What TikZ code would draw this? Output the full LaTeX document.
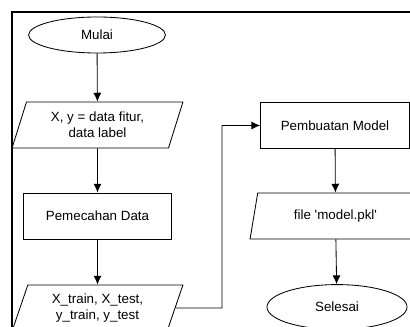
\documentclass[tikz,border=0pt]{standalone}
\usepackage{fontspec}
\setmainfont{Liberation Sans}
\usetikzlibrary{shapes.geometric,arrows.meta}

\begin{document}
\begin{tikzpicture}[x=0.025cm,y=-0.025cm,
  font=\fontsize{9.5}{11.5}\selectfont,
  base/.style={draw,line width=0.6pt,align=center,inner sep=1pt},
  terminal/.style={base,ellipse,minimum width=3.42cm,minimum height=0.9cm},
  process/.style={base,rectangle,minimum width=3.72cm,minimum height=1.15cm},
  io/.style={base,trapezium,trapezium left angle=63.4,trapezium right angle=116.6,
    trapezium stretches body,minimum width=4.27cm,minimum height=1.15cm},
  arr/.style={line width=0.6pt,-{Latex[length=2.2mm,width=2mm]}}]
\clip (0,0) rectangle (410,327);
\fill[white] (0,0) rectangle (410,327);
% frame
\draw[line width=1.8pt] (12,340)--(12,12)--(420,12);

\node[terminal] (mulai) at (97,35) {Mulai};
\node[io] (data) at (97.5,125) {X, y = data fitur,\\data label};
\node[process] (pecah) at (97.5,216) {Pemecahan Data};
\node[io] (split) at (97.5,308) {X\_train, X\_test,\\y\_train, y\_test};
\node[process] (model) at (335,125.5) {Pembuatan Model};
\node[io] (pkl) at (335.5,216) {file \textquotesingle model.pkl\textquotesingle};
\node[terminal,minimum width=3.5cm,minimum height=1.12cm] (selesai) at (337,307) {Selesai};
\coordinate (belok) at (222,308);

\draw[arr] (mulai)--(data);
\draw[arr] (data)--(pecah);
\draw[arr] (pecah)--(split);
\draw[arr] (split.east)--(belok)|-(model.west);
\draw[arr] (model)--(pkl);
\draw[arr] (pkl)--(selesai);

\end{tikzpicture}
\end{document}
